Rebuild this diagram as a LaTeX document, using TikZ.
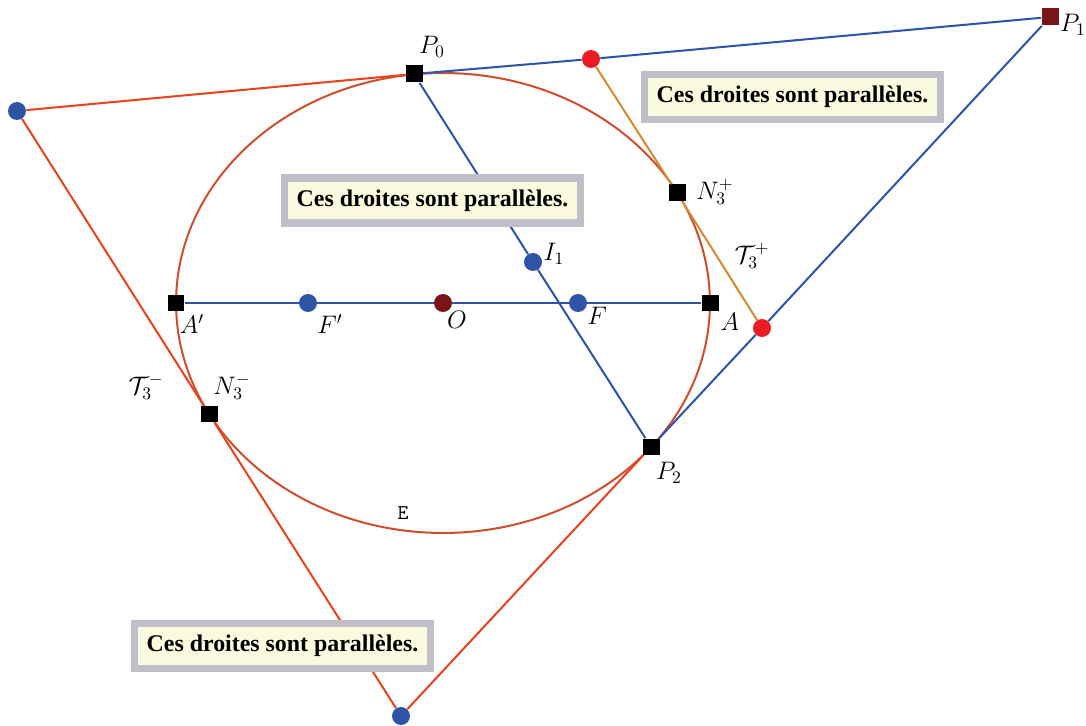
\documentclass[tikz,border=0pt]{standalone}
\usepackage{fontspec}
\setmainfont{Liberation Serif}
\definecolor{elblue}{HTML}{2E54A6}
\definecolor{elred}{HTML}{E8431F}
\definecolor{elcurve}{HTML}{CC5030}
\definecolor{elorange}{HTML}{D28C32}
\definecolor{eldot}{HTML}{EC1C24}
\definecolor{eldark}{HTML}{7A1517}
\definecolor{elgray}{HTML}{C0BEC6}
\definecolor{elcream}{HTML}{FAFADF}

\begin{document}
\begin{tikzpicture}[x=0.02cm, y=-0.02cm,
        sq/.style={rectangle, fill=black, inner sep=0pt, minimum size=0.34cm},
        dot/.style={circle, fill=elblue, inner sep=0pt, minimum size=0.36cm},
        lbl/.style={inner sep=0pt, font=\fontsize{14}{16}\selectfont},
        note/.style={draw=elgray, line width=4pt, fill=elcream, inner sep=0pt,
                     minimum width=5.92cm, minimum height=0.9cm,
                     font=\fontsize{13.6}{15}\selectfont\bfseries},
        bline/.style={draw=elblue, line width=1.15pt},
        rline/.style={draw=elred, line width=1.15pt},
        oline/.style={draw=elorange, line width=1.15pt}
      ]
        \useasboundingbox (0,0) rectangle (1086,726);

        \draw[elcurve, line width=1.15pt] (443,303) ellipse [x radius=5.34cm, y radius=4.6cm];

        \node[sq]            (p0) at (414,74)  {};
        \node[sq, fill=eldark] (p1) at (1050,17) {};
        \node[sq]            (p2) at (651,447) {};
        \node[sq]            (np) at (677,193) {};
        \node[sq]            (nm) at (209,414) {};
        \node[sq]            (a)  at (710,303) {};
        \node[sq]            (ap) at (176,303) {};
        \node[dot]           (f)  at (578,303) {};
        \node[dot]           (fp) at (308,303) {};
        \node[dot, fill=eldark] (o) at (443,303) {};
        \node[dot]           (i1) at (533,262) {};
        \node[dot, fill=eldot] (r1) at (591,59)  {};
        \node[dot, fill=eldot] (r2) at (762,328) {};
        \node[dot]           (b1) at (17,111)  {};
        \node[dot]           (b2) at (401,716) {};

        \draw[bline] (p0) -- (r1) -- (p1) -- (r2) -- (p2) -- (i1) -- (p0);
        \draw[bline, line width=0.6pt] (ap) -- (fp) -- (o) -- (f) -- (a);
        \draw[rline] (p0) -- (b1) -- (nm) -- (b2) -- (p2);
        \draw[oline] (r1) -- (np) -- (r2);

        \node[lbl] (lp0) at (432,47)  {$P_0$};
        \node[lbl] (lp1) at (1073,25) {$P_1$};
        \node[lbl] (lp2) at (669,473) {$P_2$};
        \node[lbl] (lnp) at (715,192) {$N_3^+$};
        \node[lbl] (ltp) at (752,256) {$\mathcal{T}_3^+$};
        \node[lbl] (la)  at (730,322) {$A$};
        \node[lbl] (lap) at (192,324) {$A'$};
        \node[lbl] (lfp) at (330,324) {$F'$};
        \node[lbl] (lo)  at (457,320) {$O$};
        \node[lbl] (lf)  at (597,316) {$F$};
        \node[lbl] (li1) at (554,254) {$I_1$};
        \node[lbl] (lnm) at (232,387) {$N_3^-$};
        \node[lbl] (ltm) at (146,387) {$\mathcal{T}_3^-$};
        \node[lbl, font=\fontsize{12}{14}\selectfont\ttfamily] (le) at (403,513) {E};

        \node[note] (n1) at (432.5,200.5) {Ces droites sont parallèles.};
        \node[note] (n2) at (792.5,97)    {Ces droites sont parallèles.};
        \node[note] (n3) at (282.5,646)   {Ces droites sont parallèles.};
      \end{tikzpicture}
\end{document}
